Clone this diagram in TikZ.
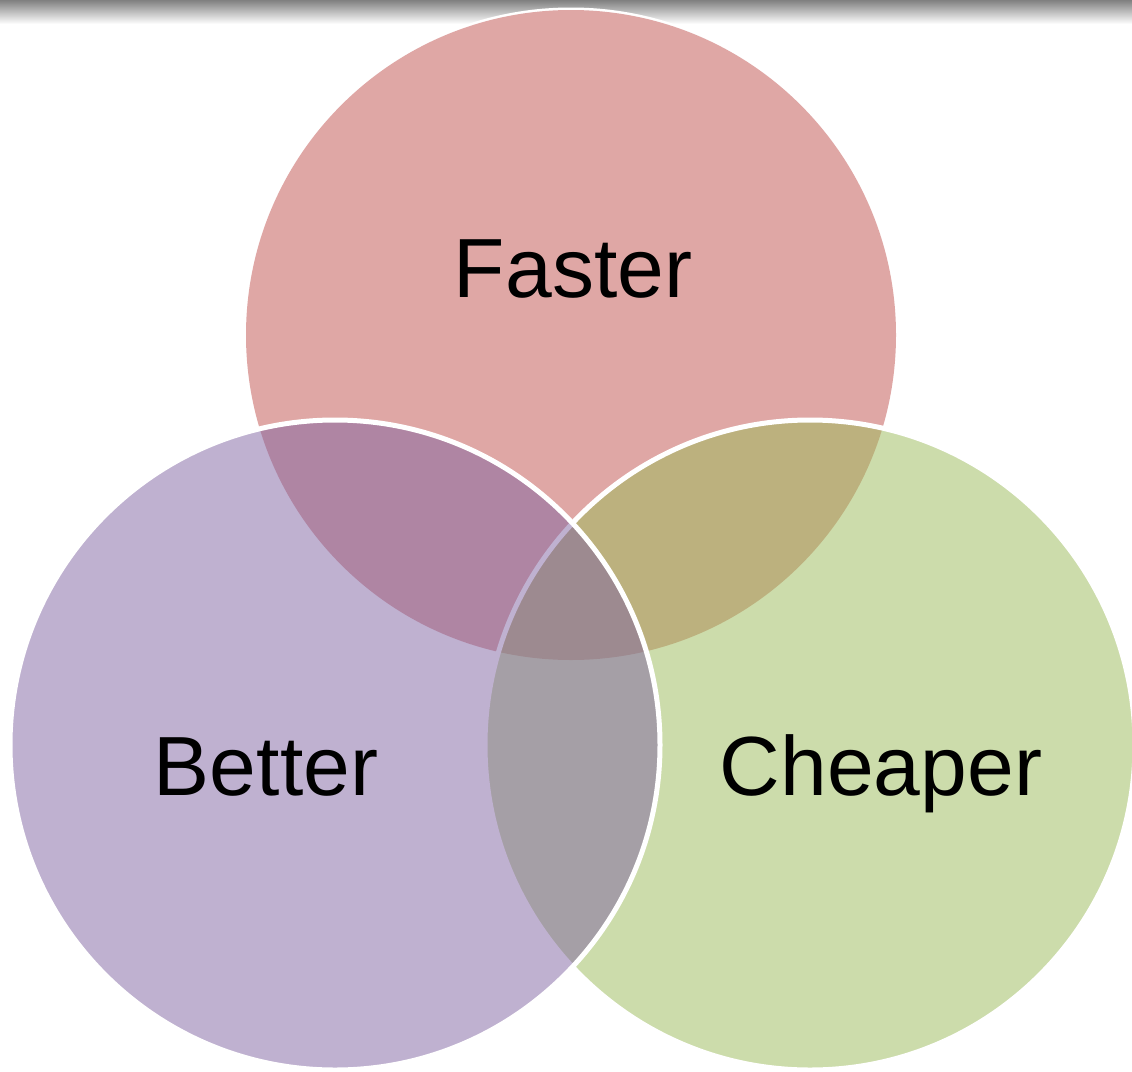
\documentclass[tikz,border=0pt]{standalone}
\usepackage{fontspec}
\setmainfont{Liberation Sans}
\definecolor{fred}{RGB}{192,80,77}
\definecolor{bpurple}{RGB}{128,100,162}
\definecolor{cgreen}{RGB}{155,187,89}
\begin{document}
\begin{tikzpicture}[x=1pt,y=-1pt,
  venn/.style={fill opacity=0.5, draw=white, line width=5pt},
  lbl/.style={anchor=base, text=black, font=\fontsize{84}{100}\selectfont}]
\useasboundingbox (0,0) rectangle (1132,1071);
\clip (0,0) rectangle (1132,1071);
\fill[white] (0,0) rectangle (1132,1071);
\shade[top color=black!50, bottom color=white] (0,0) rectangle (1132,24);
% Faster
\fill[white] (571,335) circle (327.5);
\fill[fred, fill opacity=0.5] (571,335) circle (325);
% Cheaper
\path[venn, fill=cgreen] (810,745) circle (325);
% Better
\path[venn, fill=bpurple] (335,745) circle (325);
% labels
\node[lbl] (faster) at (573,297) {Faster};
\node[lbl] (better) at (266,795) {Better};
\node[lbl] (cheaper) at (881,795) {Cheaper};
\end{tikzpicture}
\end{document}
